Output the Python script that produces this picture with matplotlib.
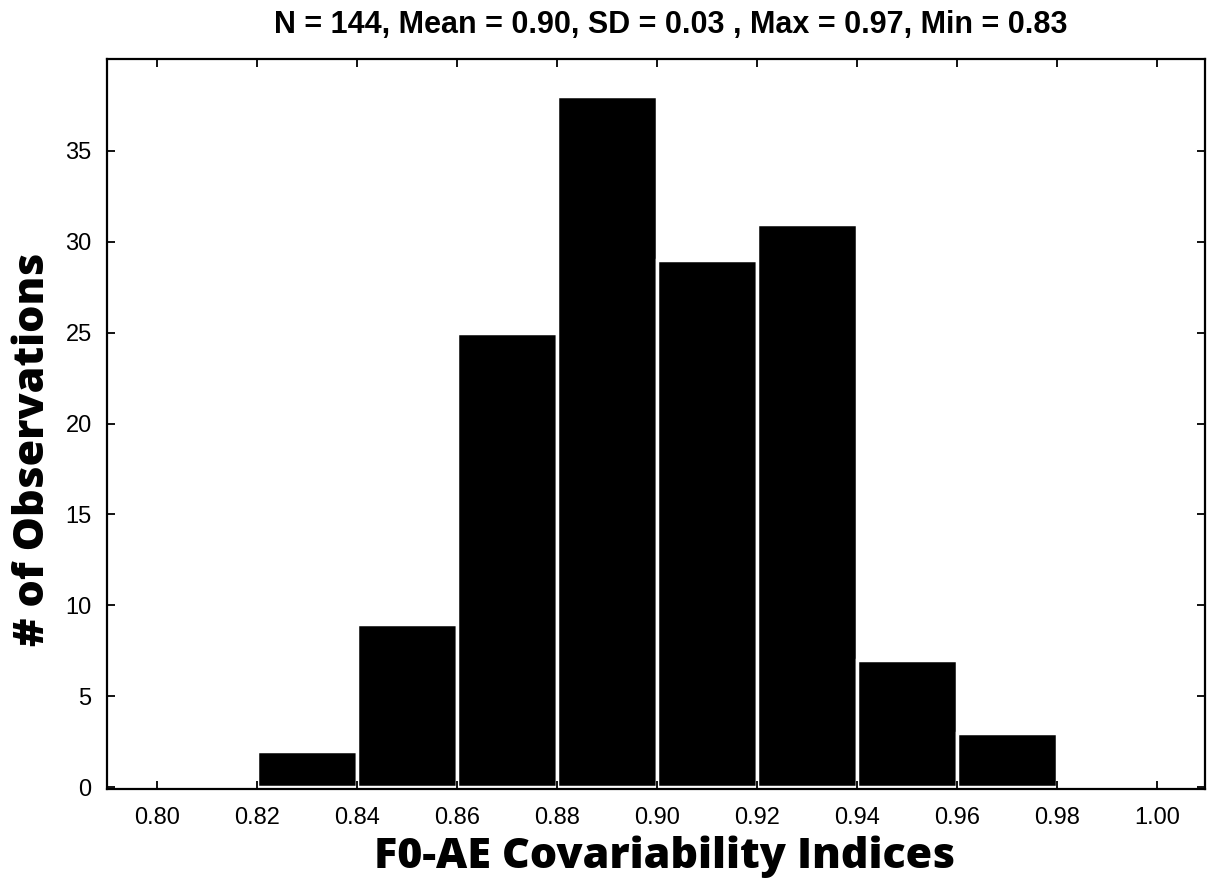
import numpy as np
import matplotlib
matplotlib.use("Agg")
import matplotlib.pyplot as plt

# histogram of F0-AE covariability indices
bin_edges = [0.80, 0.82, 0.84, 0.86, 0.88, 0.90, 0.92, 0.94, 0.96, 0.98, 1.00]
counts = [0, 2, 9, 25, 38, 29, 31, 7, 3, 0]
xticks = [0.80, 0.82, 0.84, 0.86, 0.88, 0.90, 0.92, 0.94, 0.96, 0.98, 1.00]
yticks = [0, 5, 10, 15, 20, 25, 30, 35]
title = "N = 144, Mean = 0.90, SD = 0.03 , Max = 0.97, Min = 0.83"

plt.rcParams['font.family'] = ['Liberation Sans', 'DejaVu Sans']

fig = plt.figure(figsize=(12.07, 8.94), dpi=100)
ax = fig.add_axes([0.0886, 0.1174, 0.9097, 0.8166])

lefts = np.array(bin_edges[:-1])
widths = np.diff(bin_edges)
ax.bar(lefts, counts, width=widths, align='edge', color='black',
       edgecolor='white', linewidth=2.5)

ax.set_xlim(0.79, 1.0096)
ax.set_ylim(-0.1, 40.05)
ax.set_xticks(xticks)
ax.set_xticklabels(["%.2f" % t for t in xticks])
ax.set_yticks(yticks)
ax.tick_params(direction='in', top=True, right=True, length=6, width=1.3,
               labelsize=17)
ax.tick_params(axis='x', pad=13)
ax.tick_params(axis='y', pad=11)
for s in ax.spines.values():
    s.set_linewidth(1.6)

fig.text(0.556, 1 - 25 / 894, title, fontsize=22, fontweight='bold',
         ha='center', va='center')

lab_font = ['Open Sans', 'DejaVu Sans']
ax.set_xlabel("F0-AE Covariability Indices", fontsize=31, fontweight='heavy',
              family=lab_font)
ax.set_ylabel("# of Observations", fontsize=31, fontweight='heavy',
              family=lab_font)
ax.xaxis.set_label_coords(0.508, -0.064)
ax.yaxis.set_label_coords(-0.048, 0.465)

fig.savefig("out.png", dpi=100)
